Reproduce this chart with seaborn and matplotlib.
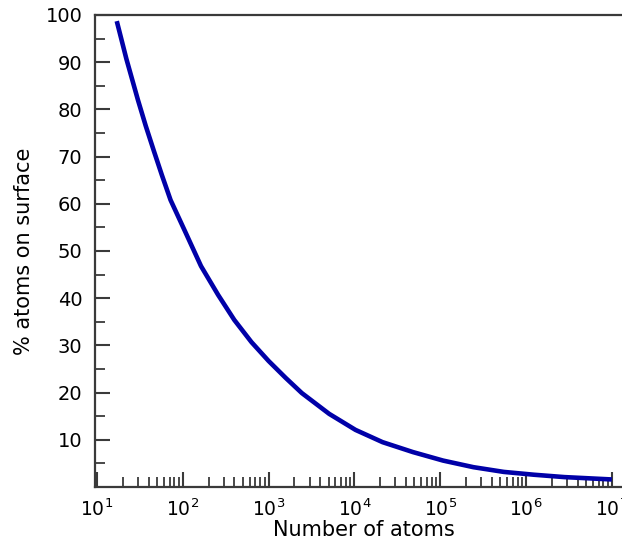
import matplotlib
matplotlib.use("Agg")
import matplotlib.pyplot as plt
import pandas as pd
import seaborn as sns
from matplotlib.ticker import LogLocator, NullFormatter, FixedLocator, LogFormatterSciNotation

# Cluster size (number of atoms) and share of atoms sitting on the surface
n_atoms = [17, 22, 30, 37, 46, 57, 72, 106, 163, 258, 398, 631, 1000, 1585,
           2440, 5080, 10300, 21300, 48100, 108000, 244000, 551000,
           1240000, 2800000, 10000000]
pct_surface = [98.7, 90.7, 82.0, 76.5, 71.2, 66.1, 60.8, 54.2, 46.8, 40.7,
               35.4, 30.7, 26.7, 23.1, 19.9, 15.5, 12.1, 9.5, 7.4, 5.6,
               4.2, 3.2, 2.6, 2.1, 1.6]

x_major = [1e1, 1e2, 1e3, 1e4, 1e5, 1e6, 1e7]
y_major = [10, 20, 30, 40, 50, 60, 70, 80, 90, 100]
y_minor = [5, 15, 25, 35, 45, 55, 65, 75, 85, 95]

x_label = "Number of atoms"
y_label = "% atoms on surface"

sns.set_theme(style="ticks")
plt.rcParams["font.family"] = ["DejaVu Sans"]

fig = plt.figure(figsize=(6.22, 5.41), dpi=100)
ax = fig.add_axes([0.1527, 0.0998, 0.8654, 0.8725])

df = pd.DataFrame({"atoms": n_atoms, "surface": pct_surface})
sns.lineplot(data=df, x="atoms", y="surface", ax=ax, color="#0000a8",
             linewidth=3.3, solid_capstyle="butt", solid_joinstyle="round")

ax.set_xscale("log")
ax.set_xlim(10 ** 0.9765, 10 ** 7.25)
ax.set_ylim(0, 100)

ax.xaxis.set_major_locator(FixedLocator(x_major))
ax.xaxis.set_major_formatter(LogFormatterSciNotation())
ax.xaxis.set_minor_locator(LogLocator(base=10, subs=range(2, 10), numticks=20))
ax.xaxis.set_minor_formatter(NullFormatter())
ax.yaxis.set_major_locator(FixedLocator(y_major))
ax.yaxis.set_minor_locator(FixedLocator(y_minor))

spine_col = "#3a3a3a"
for side in ("left", "bottom", "top"):
    ax.spines[side].set_color(spine_col)
    ax.spines[side].set_linewidth(1.6)
ax.spines["right"].set_visible(False)

ax.tick_params(axis="both", which="major", direction="in", length=11,
               width=1.5, color=spine_col, labelsize=13.5, labelcolor="black",
               top=False, right=False)
ax.tick_params(axis="both", which="minor", direction="in", length=7,
               width=1.3, color=spine_col, top=False, right=False)
ax.tick_params(axis="y", which="major", pad=9, labelsize=14)
ax.tick_params(axis="x", which="major", pad=8)

ax.set_xlabel(x_label, fontsize=15, color="black", labelpad=0)
ax.set_ylabel(y_label, fontsize=15, color="black", labelpad=8)

fig.savefig("out.png", dpi=100, facecolor="white")
